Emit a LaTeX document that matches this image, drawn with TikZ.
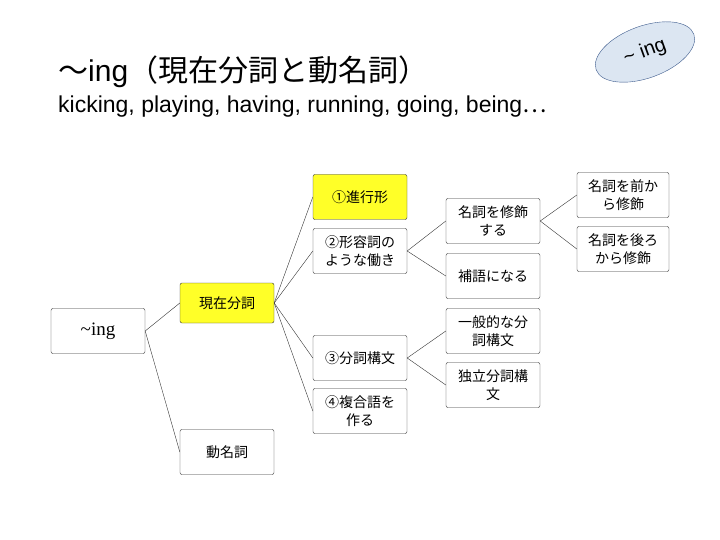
\documentclass[tikz,border=0pt]{standalone}
\usepackage{fontspec}
\setmainfont{Liberation Sans}
\newfontfamily\jp{Noto Sans CJK JP}
\newfontfamily\serif{Liberation Serif}
\usetikzlibrary{shapes.geometric}
\definecolor{boxyellow}{RGB}{255,255,40}
\definecolor{ovalblue}{RGB}{220,230,242}
\definecolor{ovalline}{RGB}{60,90,140}
\begin{document}
\begin{tikzpicture}[
    x=1pt, y=-1pt,
    box/.style={
        rectangle,
        rounded corners=2pt,
        draw=black!80,
        minimum width=94pt,
        minimum height=45pt,
        font=\jp\fontsize{14}{18}\selectfont,
        align=center,
        text width=84pt
    },
    hot/.style={fill=boxyellow},
    link/.style={draw=black!80}
]
\useasboundingbox (0,0) rectangle (720,540);

% Title
\node[anchor=west, inner sep=0pt] (title) at (58,72)
    {\fontsize{30}{34}\selectfont{\jp ～}ing{\jp （現在分詞と動名詞）}};
\node[anchor=west, inner sep=0pt] (sub) at (58,107)
    {\fontsize{23}{26}\selectfont kicking, playing, having, running, going, being{\jp …}};
\node[ellipse, draw=ovalline, fill=ovalblue, minimum width=104pt, minimum height=52pt,
    rotate=20, font=\fontsize{20}{24}\selectfont] (oval) at (645,52) {\textasciitilde{} ing};

% Root
\node[box, font=\serif\fontsize{19}{22}\selectfont] (root) at (98,331) {\textasciitilde ing};

% Level 1
\node[box, hot, minimum height=40pt] (gen) at (227,303) {現在分詞};
\node[box] (dou) at (227,452) {動名詞};

% Level 2
\node[box, hot] (shin) at (360,197) {①進行形};
\node[box] (kei) at (360,251) {②形容詞の\\ような働き};
\node[box] (bun) at (360,358) {③分詞構文};
\node[box] (fuku) at (360,411) {④複合語を\\作る};

% Level 3
\node[box] (mei) at (493,221) {名詞を修飾\\する};
\node[box] (ho) at (493,276) {補語になる};
\node[box] (ippan) at (493,331) {一般的な分\\詞構文};
\node[box] (doku) at (493,385) {独立分詞構\\文};

% Level 4
\node[box, minimum width=92pt] (mae) at (623,195) {名詞を前か\\ら修飾};
\node[box, minimum width=92pt] (ushi) at (623,249) {名詞を後ろ\\から修飾};

% Connectors
\foreach \a/\b in {root/gen, root/dou, gen/shin, gen/kei, gen/bun, gen/fuku,
    kei/mei, kei/ho, bun/ippan, bun/doku, mei/mae, mei/ushi}
    \draw[link] (\a.east) -- (\b.west);

\end{tikzpicture}
\end{document}
